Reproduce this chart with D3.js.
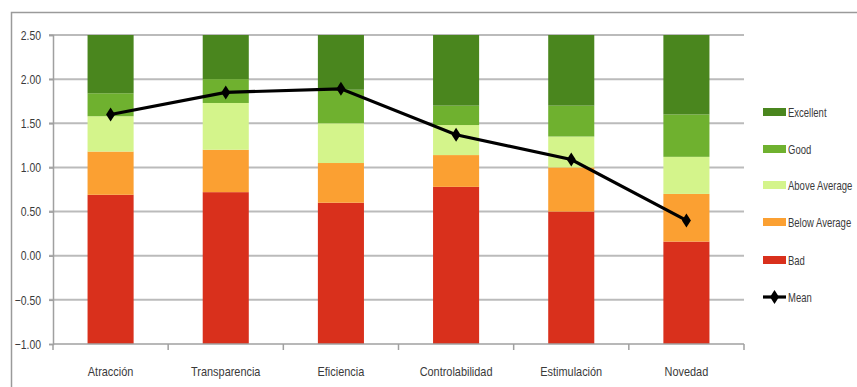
<!DOCTYPE html>
<html>
<head>
<meta charset="utf-8">
<script src="https://cdn.jsdelivr.net/npm/d3@7/dist/d3.min.js"></script>
<style>
  html, body { margin: 0; padding: 0; background: #fff; }
  svg { display: block; }
  text { font-family: "Liberation Sans", Arial, sans-serif; fill: #3a3a3a; }
</style>
</head>
<body>
<svg id="chart" width="857" height="387"></svg>
<script>
// UEQ scales (Spanish labels)
const categories = ["Atracción", "Transparencia", "Eficiencia", "Controlabilidad", "Estimulación", "Novedad"];

// Benchmark band borders per scale (upper limit of each band)
const badUpper          = [0.69, 0.72, 0.60, 0.78, 0.50, 0.16];
const belowAverageUpper = [1.18, 1.20, 1.05, 1.14, 1.00, 0.70];
const aboveAverageUpper = [1.58, 1.73, 1.50, 1.48, 1.35, 1.12];
const goodUpper         = [1.84, 2.00, 1.88, 1.70, 1.70, 1.60];
const excellentUpper    = [2.50, 2.50, 2.50, 2.50, 2.50, 2.50];

// Observed scale means
const meanValues = [1.60, 1.85, 1.89, 1.37, 1.09, 0.40];

const yTicks = [-1.0, -0.5, 0.0, 0.5, 1.0, 1.5, 2.0, 2.5];
const axisMin = -1.0, axisMax = 2.5;

const bands = [
  { name: "Bad",           upper: badUpper,          color: "#d9301c" },
  { name: "Below Average", upper: belowAverageUpper, color: "#fba032" },
  { name: "Above Average", upper: aboveAverageUpper, color: "#d4f48b" },
  { name: "Good",          upper: goodUpper,         color: "#6fb12f" },
  { name: "Excellent",     upper: excellentUpper,    color: "#4a861e" }
];

// squeeze text horizontally to get a narrow, condensed look
function condense(sel, factor) {
  sel.each(function () {
    const w = this.getComputedTextLength();
    d3.select(this).attr("textLength", w * factor).attr("lengthAdjust", "spacingAndGlyphs");
  });
}

const svg = d3.select("#chart");
const W = 857, H = 387;

// outer chart frame
svg.append("rect")
  .attr("x", 11.5).attr("y", 12.5)
  .attr("width", W).attr("height", H)
  .attr("fill", "none").attr("stroke", "#9a9a9a").attr("stroke-width", 1.5);

const plot = { left: 53, right: 744, top: 35, bottom: 344 };

const x = d3.scaleBand().domain(categories)
  .range([plot.left, plot.right]).paddingInner(0.6).paddingOuter(0.3);
const y = d3.scaleLinear().domain([axisMin, axisMax]).range([plot.bottom, plot.top]);

// horizontal gridlines
svg.append("g").selectAll("line")
  .data(yTicks.filter(t => t > axisMin))
  .join("line")
  .attr("x1", plot.left - 4).attr("x2", plot.right)
  .attr("y1", d => y(d)).attr("y2", d => y(d))
  .attr("stroke", "#bbbbbb").attr("stroke-width", 2);

// y axis
const yAxis = d3.axisLeft(y).tickValues(yTicks).tickFormat(d3.format(".2f")).tickSize(4).tickPadding(8);
const gy = svg.append("g").attr("transform", `translate(${plot.left},0)`).call(yAxis);
gy.select(".domain").attr("stroke", "#a0a0a0").attr("stroke-width", 1.5);
gy.selectAll(".tick line").attr("stroke", "#a0a0a0").attr("stroke-width", 1.5);
gy.selectAll(".tick text").attr("font-size", 13)
  .style("font-family", "\"Liberation Sans\", Arial, sans-serif")
  .attr("fill", "#3a3a3a")
  .call(condense, 0.8);

// stacked benchmark bars
bands.forEach((band, bi) => {
  svg.append("g").selectAll("rect")
    .data(categories.map((c, i) => ({
      c,
      lo: bi === 0 ? axisMin : bands[bi - 1].upper[i],
      hi: band.upper[i]
    })))
    .join("rect")
    .attr("x", d => x(d.c))
    .attr("width", x.bandwidth())
    .attr("y", d => y(d.hi))
    .attr("height", d => y(d.lo) - y(d.hi))
    .attr("fill", band.color);
});

// x axis with category boundary ticks
const step = x.step();
const gx = svg.append("g");
gx.append("line")
  .attr("x1", plot.left).attr("x2", plot.right)
  .attr("y1", plot.bottom).attr("y2", plot.bottom)
  .attr("stroke", "#a0a0a0").attr("stroke-width", 1.5);
gx.selectAll("line.tk")
  .data(d3.range(categories.length + 1))
  .join("line").attr("class", "tk")
  .attr("x1", i => plot.left + i * step).attr("x2", i => plot.left + i * step)
  .attr("y1", plot.bottom).attr("y2", plot.bottom + 6)
  .attr("stroke", "#a0a0a0").attr("stroke-width", 1.5);
gx.selectAll("text")
  .data(categories)
  .join("text")
  .attr("x", d => x(d) + x.bandwidth() / 2)
  .attr("y", 376)
  .attr("text-anchor", "middle")
  .attr("font-size", 13)
  .text(d => d)
  .call(condense, 0.84);

// mean line
const diamond = "M0,-7 L4.5,0 L0,7 L-4.5,0 Z";
const cx = i => x(categories[i]) + x.bandwidth() / 2;
svg.append("path")
  .datum(meanValues)
  .attr("d", d3.line().x((d, i) => cx(i)).y(d => y(d)))
  .attr("fill", "none").attr("stroke", "#000").attr("stroke-width", 3.2);
svg.append("g").selectAll("path")
  .data(meanValues)
  .join("path")
  .attr("transform", (d, i) => `translate(${cx(i)},${y(d)})`)
  .attr("d", diamond).attr("fill", "#000");

// legend (labels narrowed with a horizontal scale so they stay inside the frame)
const legendItems = bands.slice().reverse().map(b => ({ name: b.name, color: b.color, type: "box" }))
  .concat([{ name: "Mean", color: "#000", type: "line" }]);
const lg = svg.append("g");
const legendY = [112, 149, 185, 222, 260, 297];
legendItems.forEach((it, i) => {
  const g = lg.append("g").attr("transform", `translate(763,${legendY[i]})`);
  if (it.type === "box") {
    g.append("rect").attr("x", 0).attr("y", -4).attr("width", 23).attr("height", 8).attr("fill", it.color);
  } else {
    g.append("line").attr("x1", 0).attr("x2", 23).attr("y1", 0).attr("y2", 0)
      .attr("stroke", "#000").attr("stroke-width", 3.2);
    g.append("path").attr("transform", "translate(11.5,0)").attr("d", diamond).attr("fill", "#000");
  }
  g.append("text")
    .attr("transform", "translate(25,4.5) scale(0.76,1)")
    .attr("font-size", 12.5)
    .text(it.name);
});
</script>
</body>
</html>
